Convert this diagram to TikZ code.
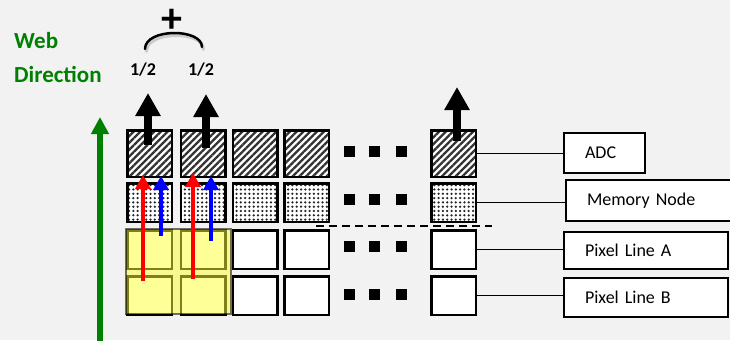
\documentclass[tikz,border=0pt]{standalone}
\usepackage{fontspec}
\setmainfont{Carlito}
\usetikzlibrary{arrows.meta, positioning, patterns.meta}
\definecolor{bggray}{RGB}{242,242,242}
\definecolor{webgreen}{RGB}{0,128,0}
\definecolor{hlyellow}{RGB}{255,255,51}

\begin{document}
\begin{tikzpicture}[
    x=1pt, y=-1pt,
    cell/.style={
      rectangle, draw, line width=2.5pt, inner sep=0pt, outer sep=0pt,
      minimum width=44.5pt, preaction={fill=white}
    },
    adccell/.style={cell, minimum height=46.5pt,
      pattern={Lines[angle=45,distance=4.8pt,line width=2.3pt]}, pattern color=black!80},
    memcell/.style={cell, minimum height=38.5pt,
      pattern={Dots[distance=4.3pt,radius=1.25pt]}, pattern color=black!85},
    pixcell/.style={cell, minimum height=38.5pt},
    dotsq/.style={rectangle, fill=black, minimum size=11pt, inner sep=0pt},
    lblbox/.style={
      rectangle, draw, line width=2pt, fill=white, anchor=west,
      inner xsep=21pt, inner ysep=0pt, align=left,
      font=\fontsize{18}{20}\selectfont
    },
    outarrow/.style={line width=8pt, -{Triangle[width=24pt,length=23pt]}},
    thinarrow/.style={line width=4pt, -{Triangle[width=15pt,length=14pt]}},
    halflbl/.style={anchor=base, inner sep=0pt, font=\bfseries\fontsize{18}{20}\selectfont},
    weblbl/.style={anchor=base west, inner sep=0pt, text=webgreen,
      font=\bfseries\fontsize{23}{28}\selectfont}
  ]
  \fill[bggray] (0,0) rectangle (730,340);
  \useasboundingbox (0,0) rectangle (730,340);

  \foreach \i/\x in {1/149.5, 2/203, 3/255, 4/306.5, 5/453.5} {
    \node[adccell] (adc\i) at (\x,153.5) {};
    \node[memcell] (mem\i) at (\x,202.5) {};
    \node[pixcell] (pxa\i) at (\x,249.5) {};
    \node[pixcell] (pxb\i) at (\x,295.5) {};
  }

  \path[fill=hlyellow, fill opacity=.5, draw=black, draw opacity=.55, line width=1.5pt]
    (126,229) rectangle (231,314);

  \foreach \r/\y in {adc/151, mem/199, pxa/246, pxb/294}
    \foreach \k/\x in {1/349.5, 2/374.5, 3/401.5}
      \node[dotsq] (\r dot\k) at (\x,\y) {};

  \coordinate (dashL) at (316,226);
  \coordinate (dashR) at (492,226);
  \draw[line width=2pt, dash pattern=on 8pt off 5pt] (dashL) -- (dashR);

  \node[lblbox, minimum width=81pt, minimum height=40pt, text width=39pt] (ladc) at (563,153) {ADC};
  \node[lblbox, minimum width=170pt, minimum height=41pt, text width=128pt] (lmem) at (565,200.5) {Memory Node};
  \node[lblbox, minimum width=164pt, minimum height=37pt, text width=122pt] (lpxa) at (563,250.5) {Pixel Line A};
  \node[lblbox, minimum width=164pt, minimum height=39pt, text width=122pt] (lpxb) at (563,297.5) {Pixel Line B};

  \foreach \a/\b in {adc5/ladc, mem5/lmem, pxa5/lpxa, pxb5/lpxb}
    \draw[line width=1.3pt] (\a.east) -- (\a.east -| \b.west);

  \foreach \i/\x/\ys/\ye in {1/148/145/93, 2/206/148/94, 5/457/141/87} {
    \coordinate (os\i) at (\x,\ys);
    \coordinate (oe\i) at (\x,\ye);
    \draw[outarrow] (os\i) -- (oe\i);
  }

  \foreach \n/\c/\x/\ys/\ye in {r1/red/143/281/175, b1/blue/161/236/176,
                                r2/red/193/279/173, b2/blue/211/241/176} {
    \coordinate (\n s) at (\x,\ys);
    \coordinate (\n e) at (\x,\ye);
    \draw[thinarrow, \c] (\n s) -- (\n e);
  }

  \coordinate (gs) at (100,345);
  \coordinate (ge) at (100,117);
  \draw[webgreen, line width=6pt, -{Triangle[width=17pt,length=17pt]}] (gs) -- (ge);

  \node[weblbl] (web) at (14,48) {Web};
  \node[weblbl] (dir) at (14,82) {Direction};

  \node[halflbl] (half1) at (143,75) {1/2};
  \node[halflbl] (half2) at (201,75) {1/2};
  \node[inner sep=0pt, font=\bfseries\fontsize{42}{42}\selectfont] (plus) at (172,21) {+};

  \coordinate (arcL) at (145,49);
  \coordinate (arcR) at (202,47);
  \draw[black!30, line width=3pt, line cap=round, opacity=.6]
    ([shift={(1.5,2.5)}]arcL) .. controls +(0,-21) and +(0,-19) .. ([shift={(1.5,2.5)}]arcR);
  \draw[line width=2.5pt, line cap=round] (arcL) .. controls +(0,-21) and +(0,-19) .. (arcR);
\end{tikzpicture}
\end{document}
